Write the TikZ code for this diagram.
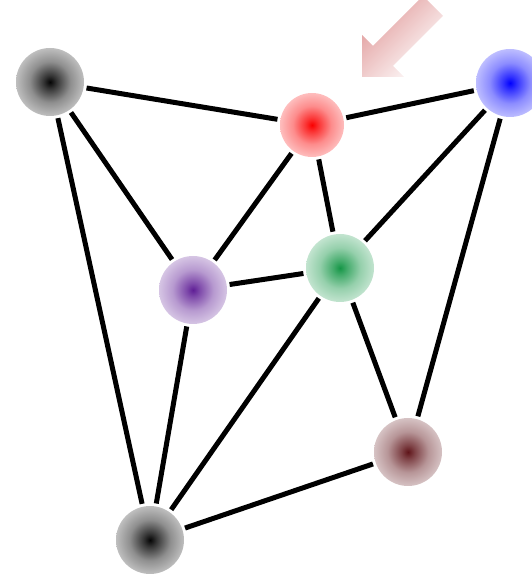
\documentclass[tikz,border=0pt]{standalone}
\usetikzlibrary{calc}
\colorlet{ballcol}{black}
\pgfdeclareradialshading[ballcol]{softball}{\pgfpoint{0bp}{0bp}}{%
  color(0bp)=(ballcol);
  color(5bp)=(ballcol!80!white);
  color(15bp)=(ballcol!45!white);
  color(27bp)=(ballcol!22!white);
  color(39bp)=(ballcol!8!white);
  color(50bp)=(white)}
\tikzset{
  ball/.style={circle, minimum size=68pt, inner sep=0pt, outer sep=3pt,
    /utils/exec={\colorlet{ballcol}{#1}}, shading=softball},
  edge/.style={line width=5pt, black},
}
\definecolor{cRed}{RGB}{250,0,0}
\definecolor{cBlue}{RGB}{0,0,255}
\definecolor{cPurple}{RGB}{95,30,150}
\definecolor{cGreen}{RGB}{20,150,70}
\definecolor{cBrown}{RGB}{95,20,25}
\definecolor{cGray}{RGB}{5,5,5}
\definecolor{cPink}{RGB}{225,155,155}
\begin{document}
\begin{tikzpicture}[x=1pt,y=1pt]
\useasboundingbox (0,0) rectangle (531,580);
% arrow
\shade[left color=cPink, right color=white, shading angle=45]
  (362,503) -- (362,545) -- (373,534) -- (423,584) -- (443,564) -- (393,514) -- (404,503) -- cycle;
% nodes
\node[ball=cGray] (a) at (50,498) {};
\node[ball=cRed, minimum size=64pt] (r) at (312,455) {};
\node[ball=cBlue] (b) at (510,497) {};
\node[ball=cPurple] (p) at (193,290) {};
\node[ball=cGreen] (g) at (340,312) {};
\node[ball=cBrown] (br) at (408,128) {};
\node[ball=cGray] (bot) at (150,40) {};
% edges
\draw[edge] (a) -- (r);
\draw[edge] (a) -- (p);
\draw[edge] (a) -- (bot);
\draw[edge] (r) -- (b);
\draw[edge] (r) -- (p);
\draw[edge] (r) -- (g);
\draw[edge] (b) -- (g);
\draw[edge] (b) -- (br);
\draw[edge] (p) -- (g);
\draw[edge] (p) -- (bot);
\draw[edge] (g) -- (bot);
\draw[edge] (g) -- (br);
\draw[edge] (br) -- (bot);
\end{tikzpicture}
\end{document}
